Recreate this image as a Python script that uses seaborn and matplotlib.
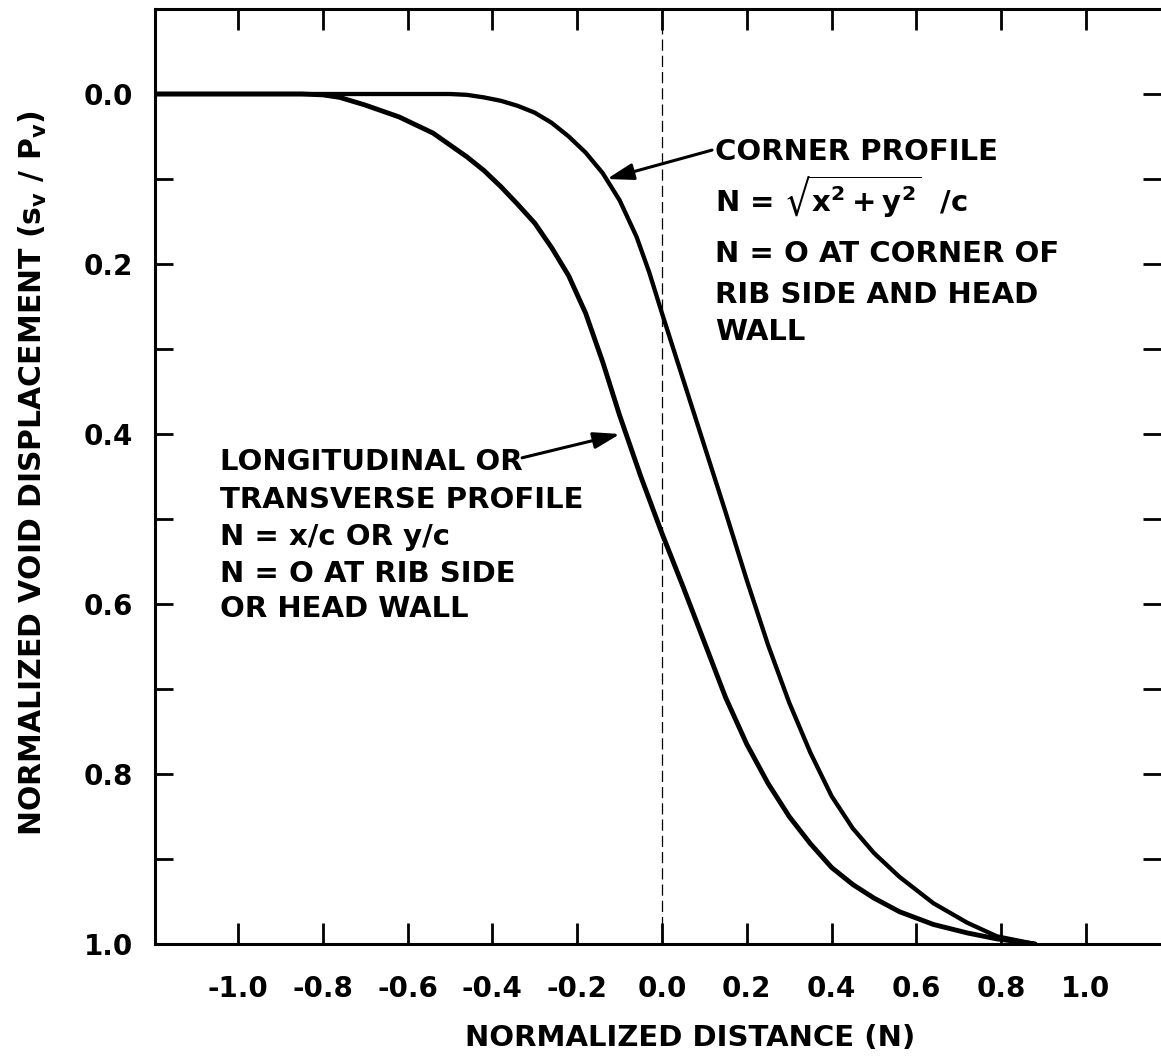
import matplotlib
matplotlib.use("Agg")
import matplotlib.pyplot as plt
import pandas as pd
import seaborn as sns

# Longitudinal / transverse profile: N = x/c or y/c
long_n = [-1.20, -0.85, -0.80, -0.76, -0.70, -0.62, -0.54, -0.46, -0.42, -0.38,
          -0.34, -0.30, -0.26, -0.22, -0.18, -0.14, -0.10, -0.05, 0.00, 0.05,
          0.10, 0.15, 0.20, 0.25, 0.30, 0.35, 0.40, 0.45, 0.50, 0.56,
          0.64, 0.72, 0.79, 0.88]
long_s = [0.000, 0.000, 0.001, 0.004, 0.013, 0.027, 0.046, 0.074, 0.090, 0.109,
          0.130, 0.152, 0.181, 0.214, 0.258, 0.315, 0.378, 0.450, 0.517, 0.580,
          0.645, 0.710, 0.765, 0.811, 0.850, 0.882, 0.910, 0.930, 0.946, 0.962,
          0.977, 0.987, 0.994, 1.000]

# Corner profile: N = sqrt(x^2 + y^2) / c
corner_n = [-1.20, -0.50, -0.46, -0.42, -0.38, -0.34, -0.30, -0.26, -0.22, -0.18,
            -0.14, -0.10, -0.06, -0.03, 0.00, 0.05, 0.10, 0.15, 0.20, 0.25,
            0.30, 0.35, 0.40, 0.45, 0.50, 0.56, 0.64, 0.72, 0.79, 0.88]
corner_s = [0.000, 0.000, 0.001, 0.004, 0.008, 0.014, 0.022, 0.034, 0.050, 0.069,
            0.093, 0.125, 0.168, 0.210, 0.258, 0.336, 0.414, 0.492, 0.572, 0.648,
            0.716, 0.775, 0.826, 0.864, 0.893, 0.921, 0.952, 0.975, 0.991, 1.000]

x_ticks = [-1.0, -0.8, -0.6, -0.4, -0.2, 0.0, 0.2, 0.4, 0.6, 0.8, 1.0]
x_tick_labels = ["-1.0", "-0.8", "-0.6", "-0.4", "-0.2", "0.0", "0.2", "0.4", "0.6", "0.8", "1.0"]
y_ticks = [0.0, 0.2, 0.4, 0.6, 0.8, 1.0]
y_tick_labels = ["0.0", "0.2", "0.4", "0.6", "0.8", "1.0"]
y_minor_ticks = [0.1, 0.3, 0.5, 0.7, 0.9]

corner_lines = [
    "CORNER PROFILE",
    r"N = $\sqrt{x^{2}+y^{2}}$  /c",
    "N = O AT CORNER OF",
    "RIB SIDE AND HEAD",
    "WALL",
]
corner_baselines = [0.0776, 0.1388, 0.1976, 0.2459, 0.2894]
long_lines = [
    "LONGITUDINAL OR",
    "TRANSVERSE PROFILE",
    "N = x/c OR y/c",
    "N = O AT RIB SIDE",
    "OR HEAD WALL",
]
long_baselines = [0.4424, 0.4871, 0.5306, 0.5741, 0.6153]

sns.set_theme(style="white")
plt.rcParams.update({
    "font.family": ["DejaVu Sans"],
    "font.weight": "bold",
    "mathtext.fontset": "dejavusans",
    "mathtext.default": "bf",
    "axes.unicode_minus": False,
    "text.color": "black",
    "xtick.color": "black",
    "ytick.color": "black",
})

W, H = 1161, 1058
fig = plt.figure(figsize=(W / 100, H / 100), dpi=100)
ax = fig.add_axes([155 / W, 1 - 944 / H, 1 - 155 / W, (944 - 9) / H])

long_df = pd.DataFrame({"N": long_n, "S": long_s})
corner_df = pd.DataFrame({"N": corner_n, "S": corner_s})
sns.lineplot(data=long_df, x="N", y="S", estimator=None, sort=False,
             color="black", linewidth=3.5, ax=ax)
sns.lineplot(data=corner_df, x="N", y="S", estimator=None, sort=False,
             color="black", linewidth=3.1, ax=ax)
for ln in ax.lines:
    ln.set_solid_joinstyle("round")
    ln.set_solid_capstyle("round")

ax.axvline(0.0, color="black", linewidth=0.9, linestyle=(0, (9, 4)))

ax.set_xlim((155 - 662) / 424, (1161 - 662) / 424)
ax.set_ylim(1.0, -0.1)

ax.set_xticks(x_ticks)
ax.set_xticklabels(x_tick_labels)
ax.set_yticks(y_ticks)
ax.set_yticklabels(y_tick_labels)
ax.set_yticks(y_minor_ticks, minor=True)

ax.tick_params(axis="x", which="major", direction="in", length=15, width=2,
               top=True, bottom=True, pad=22, labelsize=20)
ax.tick_params(axis="y", which="both", direction="in", length=13, width=2,
               left=True, right=True, pad=16, labelsize=20)
for lab in ax.get_xticklabels() + ax.get_yticklabels():
    lab.set_fontweight("bold")

for side in ["left", "top", "bottom"]:
    ax.spines[side].set_linewidth(2.2)
    ax.spines[side].set_color("black")
ax.spines["right"].set_visible(False)

ax.set_xlabel("")
ax.set_ylabel("")
fig.text(690 / W, 1 - 1038 / H, "NORMALIZED DISTANCE (N)", ha="center", va="center",
         fontsize=21, fontweight="bold")
fig.text(33 / W, 1 - 473 / H, r"NORMALIZED VOID DISPLACEMENT (s$_{v}$ / P$_{v}$)",
         ha="center", va="center", rotation=90, fontsize=21.5, fontweight="bold")

for txt, yb in zip(corner_lines, corner_baselines):
    ax.text(0.125, yb, txt, ha="left", va="baseline", fontsize=21, fontweight="bold")
for txt, yb in zip(long_lines, long_baselines):
    ax.text(-1.042, yb, txt, ha="left", va="baseline", fontsize=21, fontweight="bold")

arrow = dict(arrowstyle="-|>,head_length=0.8,head_width=0.25", color="black",
             lw=2.2, shrinkA=0, shrinkB=0, mutation_scale=20)
ax.annotate("", xy=(-0.130, 0.100), xytext=(0.118, 0.066), arrowprops=arrow)
ax.annotate("", xy=(-0.099, 0.400), xytext=(-0.330, 0.428), arrowprops=arrow)

fig.savefig("out.png", dpi=100)
